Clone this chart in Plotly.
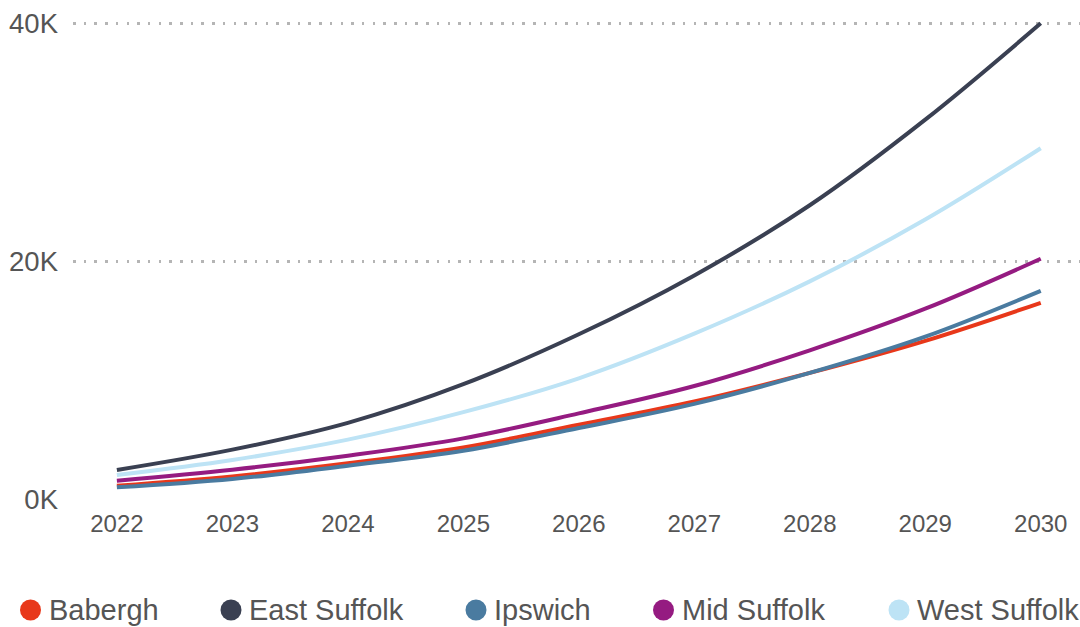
import plotly.graph_objects as go

years = [2022, 2023, 2024, 2025, 2026, 2027, 2028, 2029, 2030]
names = ["Babergh", "East Suffolk", "Ipswich", "Mid Suffolk", "West Suffolk"]
colors = ["#E8381A", "#3A4052", "#4A7BA0", "#951B81", "#BDE3F5"]

babergh = [1120, 1900, 3000, 4340, 6250, 8200, 10600, 13300, 16500]
east_suffolk = [2440, 4150, 6400, 9650, 13850, 18800, 24700, 31900, 40000]
ipswich = [980, 1680, 2800, 4060, 5970, 8000, 10600, 13650, 17500]
mid_suffolk = [1540, 2460, 3640, 5100, 7200, 9500, 12500, 16000, 20200]
west_suffolk = [2020, 3280, 4990, 7300, 10150, 13900, 18300, 23500, 29500]
series = [babergh, east_suffolk, ipswich, mid_suffolk, west_suffolk]

y_ticks = [0, 20000, 40000]
y_tick_text = ["0K", "20K", "40K"]

FONT = "Liberation Sans, Arial, Helvetica, sans-serif"
TXT = "#555555"

fig = go.Figure()
for name, color, vals in zip(names, colors, series):
    fig.add_trace(go.Scatter(
        x=years, y=vals, name=name, mode="lines",
        line=dict(color=color, width=4, shape="spline", smoothing=1),
        showlegend=False,
    ))

# custom legend (circle + label) along the bottom
W, H = 1080, 627
ML, MR, MT, MB = 73, 0, 10, 128
pw, ph = W - ML - MR, H - MT - MB
legend_cx = [30.5, 231, 476, 663.5, 899]
legend_cy = 610
shapes = []
annotations = []
for name, color, cx in zip(names, colors, legend_cx):
    xp = (cx - ML) / pw
    yp = (H - MB - legend_cy) / ph
    shapes.append(dict(type="circle", xref="paper", yref="paper",
                       xsizemode="pixel", ysizemode="pixel",
                       xanchor=xp, yanchor=yp, x0=-10.5, x1=10.5, y0=-10.5, y1=10.5,
                       fillcolor=color, line=dict(width=0)))
    annotations.append(dict(xref="paper", yref="paper", x=(cx + 16 - ML) / pw, y=yp,
                            xanchor="left", yanchor="middle", showarrow=False,
                            text=name, font=dict(family=FONT, size=29, color=TXT)))

fig.update_layout(
    width=W, height=H,
    margin=dict(l=ML, r=MR, t=MT, b=MB, pad=0),
    paper_bgcolor="white", plot_bgcolor="white",
    font=dict(family=FONT, color=TXT),
    shapes=shapes, annotations=annotations,
    xaxis=dict(range=[2021.62, 2030.34], tickvals=years, showgrid=False,
               zeroline=False, showline=False, ticks="",
               tickfont=dict(size=24, color=TXT, family=FONT), ticklabelstandoff=8),
    yaxis=dict(range=[0, 41120], tickvals=y_ticks, ticktext=y_tick_text,
               showgrid=True, gridcolor="#b5b5b5", gridwidth=2.5, griddash="2.5px,8.2px",
               zeroline=False, showline=False, ticks="",
               tickfont=dict(size=27.5, color=TXT, family=FONT), ticklabelstandoff=14),
)

fig.write_html("out.html", config={"displayModeBar": False},
               post_script="document.body.style.margin='0';")
